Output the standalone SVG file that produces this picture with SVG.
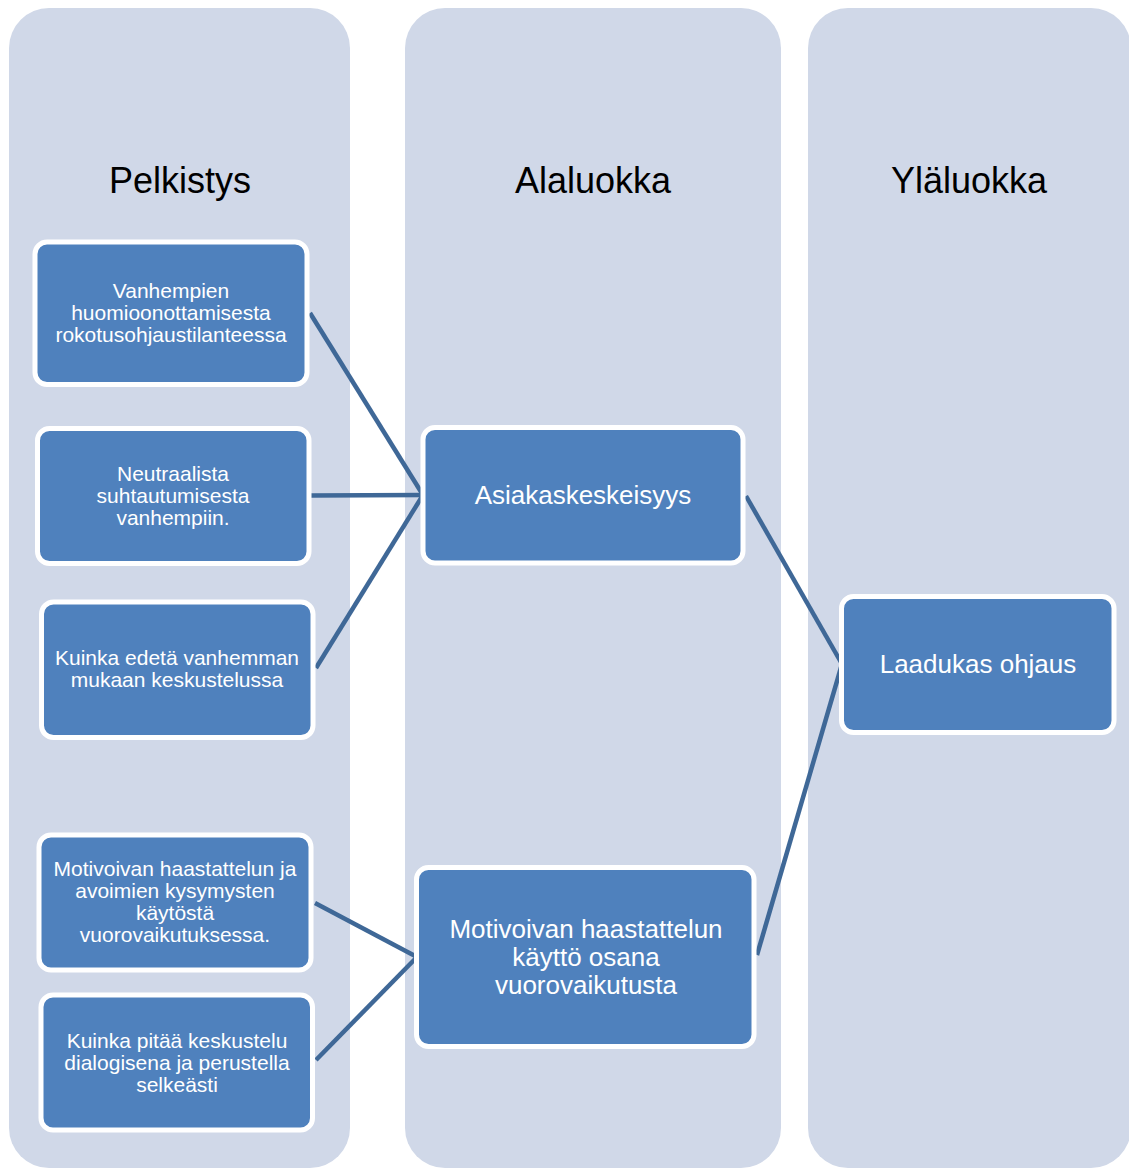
<svg xmlns="http://www.w3.org/2000/svg" width="1129" height="1169" viewBox="0 0 1129 1169">
<style>
.col{fill:#D0D8E8}
.title{font-family:"Liberation Sans",Arial,sans-serif;font-size:36px;fill:#000;text-anchor:middle}
.box{fill:#4F81BD;stroke:#FFFFFF;stroke-width:5}
.t{font-family:"Liberation Sans",Arial,sans-serif;font-size:21px;fill:#FFFFFF;text-anchor:middle}
.tb{font-family:"Liberation Sans",Arial,sans-serif;font-size:26px;fill:#FFFFFF;text-anchor:middle}
.con{stroke:#3F6897;stroke-width:4.5;fill:none}
</style>
<rect width="1129" height="1169" fill="#FFFFFF"/>
<g id="columns">
<g id="col-pelkistys"><rect class="col" x="9" y="8" width="341" height="1160" rx="40"/><text class="title" x="180" y="193">Pelkistys</text></g>
<g id="col-alaluokka"><rect class="col" x="405" y="8" width="376" height="1160" rx="40"/><text class="title" x="593" y="193">Alaluokka</text></g>
<g id="col-ylaluokka"><rect class="col" x="808" y="8" width="323" height="1160" rx="40"/><text class="title" x="969" y="193">Yläluokka</text></g>
</g>
<g id="connectors">
<line class="con" x1="310" y1="313" x2="423" y2="495"/>
<line class="con" x1="311" y1="495.5" x2="423" y2="495"/>
<line class="con" x1="316" y1="668" x2="423" y2="495"/>
<line class="con" x1="315" y1="903" x2="417" y2="957"/>
<line class="con" x1="316" y1="1060" x2="417" y2="957"/>
<line class="con" x1="746" y1="496" x2="842" y2="664"/>
<line class="con" x1="757" y1="955" x2="842" y2="664"/>
</g>
<g id="n1"><rect class="box" x="35" y="242" width="272" height="142.5" rx="12"/>
<text class="t" x="171"><tspan x="171" y="298">Vanhempien</tspan><tspan x="171" y="320">huomioonottamisesta</tspan><tspan x="171" y="342">rokotusohjaustilanteessa</tspan></text></g>
<g id="n2"><rect class="box" x="37.5" y="428.5" width="271.5" height="135" rx="12"/>
<text class="t"><tspan x="173" y="481">Neutraalista</tspan><tspan x="173" y="503">suhtautumisesta</tspan><tspan x="173" y="525">vanhempiin.</tspan></text></g>
<g id="n3"><rect class="box" x="41.5" y="602" width="271.5" height="135.5" rx="12"/>
<text class="t"><tspan x="177" y="665">Kuinka edetä vanhemman</tspan><tspan x="177" y="687">mukaan keskustelussa</tspan></text></g>
<g id="n4"><rect class="box" x="39" y="835" width="272" height="135" rx="12"/>
<text class="t"><tspan x="175" y="876">Motivoivan haastattelun ja</tspan><tspan x="175" y="898">avoimien kysymysten</tspan><tspan x="175" y="920">käytöstä</tspan><tspan x="175" y="942">vuorovaikutuksessa.</tspan></text></g>
<g id="n5"><rect class="box" x="41" y="995" width="271.5" height="135" rx="12"/>
<text class="t"><tspan x="177" y="1048">Kuinka pitää keskustelu</tspan><tspan x="177" y="1069.5">dialogisena ja perustella</tspan><tspan x="177" y="1092">selkeästi</tspan></text></g>
<g id="n6"><rect class="box" x="423" y="427.5" width="320" height="135.5" rx="12"/>
<text class="tb" x="583" y="504">Asiakaskeskeisyys</text></g>
<g id="n7"><rect class="box" x="416.5" y="867.5" width="337.5" height="179" rx="12"/>
<text class="tb"><tspan x="586" y="938">Motivoivan haastattelun</tspan><tspan x="586" y="966">käyttö osana</tspan><tspan x="586" y="994">vuorovaikutusta</tspan></text></g>
<g id="n8"><rect class="box" x="841.5" y="596.5" width="272.5" height="136" rx="12"/>
<text class="tb" x="978" y="673">Laadukas ohjaus</text></g>
</svg>
